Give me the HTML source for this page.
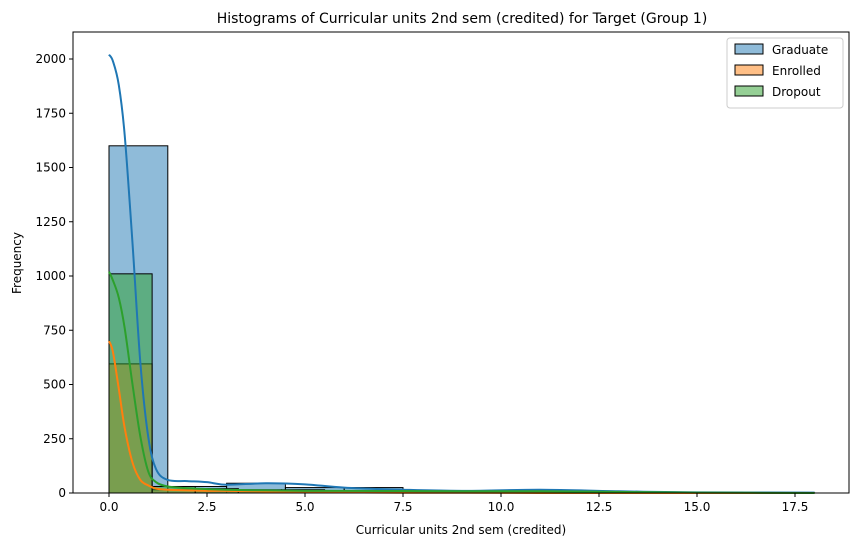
<!DOCTYPE html>
<html><head><meta charset="utf-8"><style>
body{margin:0;background:#fff;font-family:"Liberation Sans","DejaVu Sans",sans-serif}
</style></head><body>
<svg id="chart" width="859" height="547" xmlns="http://www.w3.org/2000/svg" font-family="DejaVu Sans, Liberation Sans, sans-serif">
<rect width="859" height="547" fill="#fff"/>
<text x="462" y="23" text-anchor="middle" font-size="14">Histograms of Curricular units 2nd sem (credited) for Target (Group 1)</text>
<g id="marks"></g>
<rect x="73" y="32" width="776" height="461" fill="none" stroke="#000" stroke-width="1"/>
<g id="axes" font-size="12"></g>
<text x="461" y="534" text-anchor="middle" font-size="12">Curricular units 2nd sem (credited)</text>
<text x="21" y="263" text-anchor="middle" font-size="12" transform="rotate(-90 21 263)">Frequency</text>
<g>
<rect x="727" y="38" width="116" height="70" rx="3" fill="#fff" stroke="#ccc"/>
<g><rect x="735" y="44" width="28" height="10" fill="rgba(31,119,180,0.5)" stroke="#000"/><text x="772" y="54" font-size="12">Graduate</text></g>
<g><rect x="735" y="65" width="28" height="10" fill="rgba(255,127,14,0.5)" stroke="#000"/><text x="772" y="75" font-size="12">Enrolled</text></g>
<g><rect x="735" y="86" width="28" height="10" fill="rgba(44,160,44,0.5)" stroke="#000"/><text x="772" y="96" font-size="12">Dropout</text></g>
</g>
</svg>
<script>
const gradCounts=[1600,30,45,25,25,8,8,5,3,2,1,1];
const gradBinWidth=1.5;
const enrCounts=[595,15,10,8,5,3,2,1,1,0,0,0];
const enrBinWidth=1.1;
const dropCounts=[1010,30,20,15,15,10,8,6,5,5,4,3];
const dropBinWidth=1.1;
const kdeX=[0,0.1,0.25,0.4,0.6,0.8,1,1.2,1.5,2,2.5,3,4,5,6,7.5,9,11,13,15,18];
const gradKde=[2020,1990,1880,1650,1150,600,260,110,60,55,50,38,45,40,25,15,10,15,8,3,2];
const enrKde=[700,650,480,300,140,60,35,20,15,12,10,10,7,5,3,1,1,0,0,0,0];
const dropKde=[1020,980,900,760,500,260,100,50,30,22,18,15,12,10,10,9,8,8,5,2,0];
const xTicks=[0,2.5,5,7.5,10,12.5,15,17.5];
const yTicks=[0,250,500,750,1000,1250,1500,1750,2000];
const NS="http://www.w3.org/2000/svg";
const X=v=>109+v*39.2, Y=v=>493-v*0.217;
const marks=document.getElementById('marks'), axes=document.getElementById('axes');
function mk(t,a,p){const e=document.createElementNS(NS,t);for(const k in a)e.setAttribute(k,a[k]);p.appendChild(e);return e;}
function hist(c,w,fill,name){c.forEach((v,i)=>{if(v<=0)return;
const r=mk('rect',{x:X(i*w),y:Y(v),width:X((i+1)*w)-X(i*w),height:Y(0)-Y(v),fill:fill,stroke:'#000','stroke-width':1},marks);

});}
function line(ys,col,name){const p=kdeX.map((x,i)=>[X(x),Y(ys[i])]);let d='M'+p[0][0]+','+p[0][1];
for(let i=0;i<p.length-1;i++){const p0=p[i-1]||p[i],p1=p[i],p2=p[i+1],p3=p[i+2]||p2;
d+=` C${p1[0]+(p2[0]-p0[0])/6},${p1[1]+(p2[1]-p0[1])/6} ${p2[0]-(p3[0]-p1[0])/6},${p2[1]-(p3[1]-p1[1])/6} ${p2[0]},${p2[1]}`;}
const e=mk('path',{d:d,fill:'none',stroke:col,'stroke-width':2},marks);

}
hist(gradCounts,gradBinWidth,'rgba(31,119,180,0.5)','graduate');
hist(enrCounts,enrBinWidth,'rgba(255,127,14,0.5)','enrolled');
hist(dropCounts,dropBinWidth,'rgba(44,160,44,0.5)','dropout');
line(gradKde,'#1f77b4','graduate');
line(enrKde,'#ff7f0e','enrolled');
line(dropKde,'#2ca02c','dropout');
xTicks.forEach(t=>{mk('line',{x1:X(t),x2:X(t),y1:493,y2:497,stroke:'#000'},axes);
const e=mk('text',{x:X(t),y:511,'text-anchor':'middle'},axes);e.textContent=t.toFixed(1);

});
yTicks.forEach(t=>{mk('line',{x1:69,x2:73,y1:Y(t),y2:Y(t),stroke:'#000'},axes);
const e=mk('text',{x:66,y:Y(t)+4,'text-anchor':'end'},axes);e.textContent=t;

});
</script>
</body></html>
